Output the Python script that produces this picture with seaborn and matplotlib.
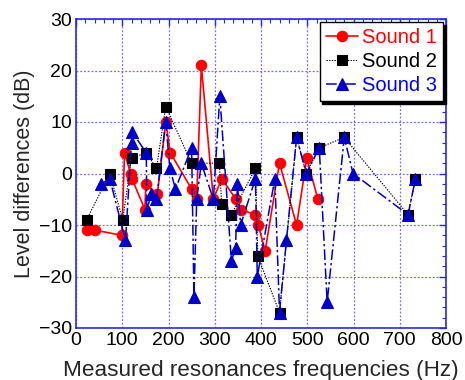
import matplotlib
matplotlib.use("Agg")
import matplotlib.pyplot as plt
import numpy as np
import pandas as pd
import seaborn as sns
from matplotlib.ticker import MultipleLocator

# ---- data ----
s1_freq = [23, 41, 99, 105, 118, 121, 149, 151, 176, 194, 204, 250, 261, 271, 297,
           315, 346, 357, 387, 394, 409, 440, 477, 499, 523]
s1_db = [-11, -11, -12, 4, 0, -1, -7, -2, -4, 10, 4, -3, -5, 21, -5,
         -1, -5, -7, -8, -10, -15, 2, -10, 3, -5]

s2_freq = [23, 73, 101, 120, 152, 174, 194, 250, 310, 315, 336, 388, 393, 440,
           477, 498, 526, 580, 718, 734]
s2_db = [-9, 0, -9, 3, 4, 1, 13, 2, 2, -6, -8, 1, -16, -27,
         7, 0, 5, 7, -8, -1]

s3_freq = [55, 73, 107, 120, 122, 152, 153, 163, 174, 194, 203, 215, 250, 255, 261,
           271, 297, 311, 336, 345, 349, 356, 388, 392, 430, 440, 455, 477, 498,
           526, 543, 580, 599, 718, 734]
s3_db = [-2, -1, -13, 6, 8, 4, -7, -4, -5, 10, 1, -3, 5, -24, -5,
         2, -5, 15, -17, -14.5, -2, -10, -1, -20, -1, -27, -13, 7, 0,
         5, -25, 7, 0, -8, -1]

series_names = ["Sound 1", "Sound 2", "Sound 3"]
x_ticks = [0, 100, 200, 300, 400, 500, 600, 700, 800]
y_ticks = [-30, -20, -10, 0, 10, 20, 30]

# ---- style ----
sns.set_style("white")
plt.rcParams["font.family"] = ["Liberation Sans", "DejaVu Sans"]

AXBLUE = "#2a2ae6"
GRID = "#7070f0"

fig = plt.figure(figsize=(4.65, 3.8), dpi=100)
ax = fig.add_axes([76 / 465, 1 - 328 / 380, (446 - 76) / 465, (328 - 19) / 380])

styles = [
    dict(color="#ff0000", marker="o", linestyle="-", lw=1.2, markersize=7.5, mec="#ff0000"),
    dict(color="#000000", marker="s", linestyle=(0, (1.2, 1.2)), lw=0.8, markersize=7, mec="#000000"),
    dict(color="#0000c8", marker="^", linestyle=(0, (7, 2, 1.5, 2)), lw=1.1, markersize=8, mec="#0000c8"),
]
data = [(s1_freq, s1_db), (s2_freq, s2_db), (s3_freq, s3_db)]

for name, (f, d), st in zip(series_names, data, styles):
    df = pd.DataFrame({"freq": f, "db": d})
    sns.lineplot(data=df, x="freq", y="db", ax=ax, estimator=None, sort=False,
                 label=name, color=st["color"], marker=st["marker"],
                 linestyle=st["linestyle"], lw=st["lw"], markersize=st["markersize"],
                 markeredgecolor=st["mec"], markeredgewidth=0.8)

ax.set_xlim(0, 800)
ax.set_ylim(-30, 30)
ax.set_xticks(x_ticks)
ax.set_yticks(y_ticks)
ax.xaxis.set_minor_locator(MultipleLocator(20))
ax.yaxis.set_minor_locator(MultipleLocator(2))

ax.grid(True, which="major", color=GRID, linestyle=(0, (1.5, 1.5)), lw=0.9)
ax.set_axisbelow(True)
for sp in ax.spines.values():
    sp.set_color(AXBLUE)
    sp.set_linewidth(1.2)
    sp.set_visible(True)

ax.tick_params(which="both", direction="in", top=True, right=True, color=AXBLUE,
               labelcolor="black", labelsize=14)
ax.tick_params(which="major", length=5, width=1)
ax.tick_params(which="minor", length=3, width=0.8)
ax.tick_params(axis="x", pad=3)
ax.tick_params(axis="y", pad=3)

ax.set_xlabel("Measured resonances frequencies (Hz)", fontsize=16.2, labelpad=8)
ax.set_ylabel("Level differences (dB)", fontsize=15.5, labelpad=3)

leg = ax.legend(loc="upper right", fontsize=14.5, frameon=True, fancybox=False,
                shadow={"color": "black", "alpha": 1.0},
                borderaxespad=0.15, handlelength=1.6, handletextpad=0.2,
                labelspacing=0.25, borderpad=0.3)
leg.get_frame().set_edgecolor("black")
leg.get_frame().set_linewidth(1.0)
for txt, st in zip(leg.get_texts(), styles):
    txt.set_color(st["color"] if st["color"] != "#0000c8" else "#0000ff")

fig.savefig("out.png", dpi=100)
